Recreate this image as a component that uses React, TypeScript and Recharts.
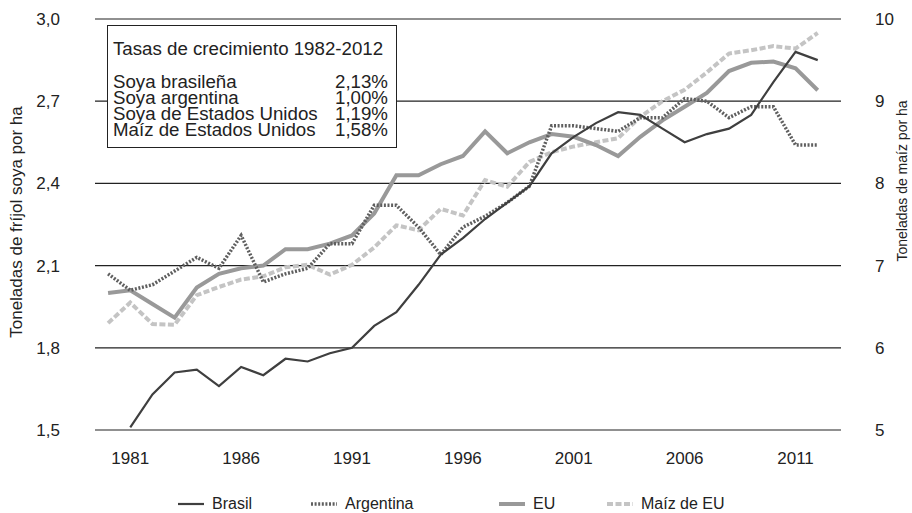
import React from 'react'
import { LineChart, Line, XAxis, YAxis, CartesianGrid } from 'recharts'

const years = [
  1980, 1981, 1982, 1983, 1984, 1985, 1986, 1987, 1988, 1989, 1990, 1991, 1992, 1993, 1994, 1995, 1996,
  1997, 1998, 1999, 2000, 2001, 2002, 2003, 2004, 2005, 2006, 2007, 2008, 2009, 2010, 2011, 2012
]

const brasil = [
  null, 1.51, 1.63, 1.71, 1.72, 1.66, 1.73, 1.7, 1.76, 1.75, 1.78, 1.8, 1.88, 1.93, 2.03, 2.14, 2.2,
  2.27, 2.33, 2.39, 2.51, 2.57, 2.62, 2.66, 2.65, 2.6, 2.55, 2.58, 2.6, 2.65, 2.77, 2.88, 2.85
]

const argentina = [
  2.07, 2.01, 2.03, 2.08, 2.13, 2.09, 2.21, 2.04, 2.07, 2.09, 2.18, 2.18, 2.32, 2.32, 2.24, 2.14, 2.24,
  2.28, 2.33, 2.39, 2.61, 2.61, 2.6, 2.59, 2.64, 2.64, 2.71, 2.7, 2.64, 2.68, 2.68, 2.54, 2.54
]

const eu = [
  2.0, 2.01, 1.96, 1.91, 2.02, 2.07, 2.09, 2.1, 2.16, 2.16, 2.18, 2.21, 2.29, 2.43, 2.43, 2.47, 2.5,
  2.59, 2.51, 2.55, 2.58, 2.57, 2.54, 2.5, 2.57, 2.63, 2.68, 2.73, 2.81, 2.84, 2.845, 2.82, 2.74
]

// maíz va en el eje derecho (t/ha)
const maiz = [
  6.3, 6.55, 6.29, 6.28, 6.64, 6.74, 6.83, 6.87, 6.98, 7.01, 6.89, 7.01, 7.22, 7.49, 7.43, 7.69, 7.61,
  8.04, 7.96, 8.26, 8.38, 8.45, 8.5, 8.55, 8.81, 9.0, 9.14, 9.35, 9.58, 9.62, 9.67, 9.64, 9.83
]

const xTicks = [1981, 1986, 1991, 1996, 2001, 2006, 2011]
const soyTicks = [1.5, 1.8, 2.1, 2.4, 2.7, 3.0]
const cornTicks = [5, 6, 7, 8, 9, 10]

const rates = [
  { label: 'Soya brasileña', value: '2,13%' },
  { label: 'Soya argentina', value: '1,00%' },
  { label: 'Soya de Estados Unidos', value: '1,19%' },
  { label: 'Maíz de Estados Unidos', value: '1,58%' }
]

const data = years.map((year, i) => ({
  year,
  brasil: brasil[i],
  argentina: argentina[i],
  eu: eu[i],
  maiz: maiz[i]
}))

const FONT = '"Liberation Sans", Arial, sans-serif'
const tick = { fill: '#222', fontSize: 17, fontFamily: FONT }

const legendItems = [
  { name: 'Brasil', x: 212, stroke: '#3f3f3f', width: 2.2, dash: undefined },
  { name: 'Argentina', x: 345, stroke: '#5f5f5f', width: 3.5, dash: '2 1.6' },
  { name: 'EU', x: 533, stroke: '#999999', width: 4, dash: undefined },
  { name: 'Maíz de EU', x: 641, stroke: '#c4c4c4', width: 4, dash: '6 2.5' }
]

export default function App() {
  return (
    <div style={{ position: 'absolute', left: 0, top: 0, width: 912, height: 513, background: '#fff', fontFamily: FONT, color: '#222' }}>
      <LineChart width={912} height={513} data={data} margin={{ top: 19, right: 0, bottom: 43, left: 0 }}>
        <CartesianGrid vertical={false} stroke="#222" strokeWidth={1.2} yAxisId="soy" />
        <XAxis
          dataKey="year"
          type="number"
          domain={[1979.41, 2013.05]}
          ticks={xTicks}
          height={40}
          axisLine={false}
          tickLine={false}
          tickSize={0}
          tickMargin={22}
          tick={tick}
          allowDataOverflow
        />
        <YAxis
          yAxisId="soy"
          orientation="left"
          domain={[1.5, 3.0]}
          ticks={soyTicks}
          width={95}
          axisLine={false}
          tickLine={false}
          tickSize={0}
          tickMargin={35}
          tick={tick}
          tickFormatter={(v: number) => v.toFixed(1).replace('.', ',')}
        />
        <YAxis
          yAxisId="corn"
          orientation="right"
          domain={[5, 10]}
          ticks={cornTicks}
          width={71}
          axisLine={false}
          tickLine={false}
          tickSize={0}
          tickMargin={34}
          tick={{ ...tick, textAnchor: 'start' }}
        />
        <Line yAxisId="corn" dataKey="maiz" stroke="#c4c4c4" strokeWidth={4} strokeDasharray="6 2.5" dot={false} isAnimationActive={false} />
        <Line yAxisId="soy" dataKey="eu" stroke="#999999" strokeWidth={4} dot={false} isAnimationActive={false} />
        <Line yAxisId="soy" dataKey="argentina" stroke="#5f5f5f" strokeWidth={3.5} strokeDasharray="2 1.6" dot={false} isAnimationActive={false} />
        <Line yAxisId="soy" dataKey="brasil" stroke="#3f3f3f" strokeWidth={2.2} dot={false} isAnimationActive={false} />
      </LineChart>

      {/* títulos de ejes */}
      <div style={{ position: 'absolute', left: 17, top: 222, transform: 'translate(-50%, -50%) rotate(-90deg)', whiteSpace: 'nowrap', fontSize: 17 }}>
        Toneladas de fríjol soya por ha
      </div>
      <div style={{ position: 'absolute', left: 902, top: 181, transform: 'translate(-50%, -50%) rotate(-90deg)', whiteSpace: 'nowrap', fontSize: 14 }}>
        Toneladas de maíz por ha
      </div>

      {/* recuadro con tasas */}
      <div style={{ position: 'absolute', left: 107, top: 25, width: 290, height: 123, boxSizing: 'border-box', border: '1px solid #222', background: '#fff', fontSize: 18.7 }}>
        <div style={{ position: 'absolute', left: 5, top: 14.5, lineHeight: '16px', whiteSpace: 'nowrap' }}>Tasas de crecimiento 1982-2012</div>
        <div style={{ position: 'absolute', left: 5, right: 8, top: 47.5 }}>
          {rates.map((r) => (
            <div key={r.label} style={{ display: 'flex', justifyContent: 'space-between', height: 16, lineHeight: '16px', whiteSpace: 'nowrap' }}>
              <span>{r.label}</span>
              <span>{r.value}</span>
            </div>
          ))}
        </div>
      </div>

      {/* leyenda */}
      {legendItems.map((it) => (
        <div key={it.name} style={{ position: 'absolute', left: it.x - 34, top: 496, height: 16, display: 'flex', alignItems: 'center', fontSize: 16, lineHeight: '16px', whiteSpace: 'nowrap' }}>
          <svg width={26} height={8} style={{ marginRight: 8 }}>
            <line x1={0} y1={4} x2={26} y2={4} stroke={it.stroke} strokeWidth={it.width} strokeDasharray={it.dash} />
          </svg>
          <span>{it.name}</span>
        </div>
      ))}
    </div>
  )
}
